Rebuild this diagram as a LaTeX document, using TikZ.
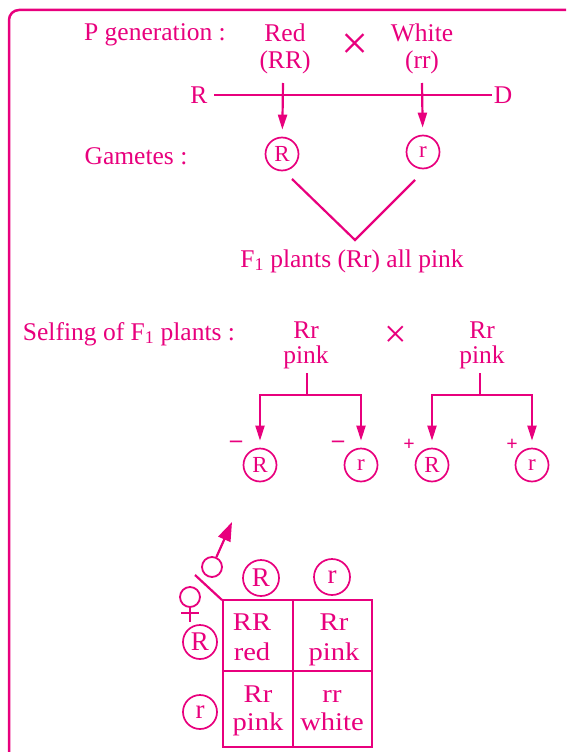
\documentclass[tikz,border=0pt]{standalone}
\usepackage{fontspec}
\setmainfont{Liberation Serif}
\newfontfamily\pfont{Liberation Serif}[FakeStretch=1.12]
\usetikzlibrary{arrows.meta}
\definecolor{pk}{RGB}{232,0,125}
\begin{document}
\begin{tikzpicture}[x=1pt,y=-1pt,
  txt/.style={text=pk, font=\fontsize{25.5}{28}\selectfont, inner sep=0pt, anchor=base},
  two/.style={text=pk, font=\fontsize{25.5}{28}\selectfont, inner sep=0pt, align=center, anchor=base},
  ptxt/.style={text=pk, font=\pfont\fontsize{25.5}{28}\selectfont, inner sep=0pt, anchor=base},
  sym/.style={text=pk, inner sep=0pt, anchor=center},
  gam/.style={circle, draw=pk, line width=1.7pt, text=pk, minimum size=33pt, inner sep=0pt, font=\fontsize{23}{24}\selectfont},
  bgam/.style={gam, minimum size=35pt, font=\fontsize{27}{28}\selectfont},
  ln/.style={draw=pk, line width=2.2pt},
  arr/.style={ln, -{Triangle[length=15pt,width=9pt]}},
]
\useasboundingbox (0,0) rectangle (566,752);
% frame
\draw[pk, line width=2.5pt, rounded corners=10pt] (9,752) -- (9,10) -- (566,10);

% P generation
\node[txt] (pgen) at (155,41) {P generation :};
\node[two] (red) at (285,69) {Red\\[-0.5pt](RR)};
\node[sym, font=\fontsize{48}{48}\selectfont] (x1) at (355,47) {×};
\node[two] (white) at (422,69) {White\\[-0.5pt](rr)};
\node[txt] (Rl) at (199,103) {R};
\node[txt] (Dl) at (503,103) {D};
\coordinate (l1) at (214,95);
\coordinate (l2) at (492,95);
\draw[ln] (l1) -- (l2);

% gametes
\node[txt] (gam) at (136,164) {Gametes :};
\node[gam] (gR) at (282,154) {R};
\node[gam] (gr) at (423,152) {r};
\coordinate (a1) at (283,83);
\coordinate (a2) at (422,83);
\draw[arr, shorten >=7pt] (a1) -- (gR);
\draw[arr, shorten >=7pt] (a2) -- (gr);
\coordinate (v1) at (292,179);
\coordinate (vb) at (355,240);
\coordinate (v2) at (415,180);
\draw[ln] (v1) -- (vb) -- (v2);
\node[txt] (f1) at (352,267) {F\textsubscript{1} plants (Rr) all pink};

% selfing
\node[txt] (self) at (129,340) {Selfing of F\textsubscript{1} plants :};
\node[txt] (p1a) at (306,338) {Rr};
\node[txt] (p1b) at (306,363) {pink};
\node[sym, font=\fontsize{40}{40}\selectfont] (x2) at (396,337) {×};
\node[txt] (p2a) at (482,338) {Rr};
\node[txt] (p2b) at (482,363) {pink};

\node[gam] (cR1) at (260,465) {R};
\node[gam] (cr1) at (361,465) {r};
\node[gam] (cR2) at (432,465) {R};
\node[gam] (cr2) at (532,465) {r};

\coordinate (t1) at (307,373);
\coordinate (h1) at (307,395);
\coordinate (t2) at (480,373);
\coordinate (h2) at (480,395);
\draw[ln] (t1) -- (h1);
\draw[ln] (t2) -- (h2);
\draw[arr, shorten >=7pt] (h1) -| (cR1);
\draw[arr, shorten >=7pt] (h1) -| (cr1);
\draw[arr, shorten >=7pt] (h2) -| (cR2);
\draw[arr, shorten >=7pt] (h2) -| (cr2);

\node[sym, font=\fontsize{24}{24}\selectfont\bfseries] (m1) at (236,444) {–};
\node[sym, font=\fontsize{24}{24}\selectfont\bfseries] (m2) at (338,444) {–};
\node[sym, font=\fontsize{20}{20}\selectfont\bfseries] (pl1) at (409,445) {+};
\node[sym, font=\fontsize{20}{20}\selectfont\bfseries] (pl2) at (512,445) {+};

% Punnett square
\draw[ln] (223,600) rectangle (372,747);
\draw[ln] (293,600) -- (293,747);
\draw[ln] (223,671) -- (372,671);
\node[bgam, minimum size=36pt] (hR) at (261,578) {R};
\node[bgam, minimum size=36pt] (hr) at (332,577) {r};
\node[bgam, minimum size=34pt] (vR) at (200,642) {R};
\node[bgam, minimum size=34pt] (vr) at (200,712) {r};

\node[ptxt] (c11a) at (252,630) {RR};
\node[ptxt] (c11b) at (252,660) {red};
\node[ptxt] (c12a) at (334,630) {Rr};
\node[ptxt] (c12b) at (334,660) {pink};
\node[ptxt] (c21a) at (258,702) {Rr};
\node[ptxt] (c21b) at (258,730) {pink};
\node[ptxt] (c22a) at (332,702) {rr};
\node[ptxt] (c22b) at (332,730) {white};

% corner diagonal, male and female symbols
\coordinate (d1) at (195,575);
\coordinate (d2) at (222,600);
\draw[ln] (d1) -- (d2);
\node[circle, draw=pk, line width=1.8pt, minimum size=20pt, inner sep=0pt] (male) at (212,567) {};
\coordinate (mt) at (232,522);
\draw[ln, -{Triangle[length=19pt,width=13pt]}] (male) -- (mt);
\node[circle, draw=pk, line width=1.8pt, minimum size=20pt, inner sep=0pt] (fem) at (190,597) {};
\coordinate (fs) at (190,622);
\coordinate (fc1) at (181,613);
\coordinate (fc2) at (199,613);
\draw[ln] (fem) -- (fs);
\draw[ln] (fc1) -- (fc2);
\end{tikzpicture}
\end{document}
